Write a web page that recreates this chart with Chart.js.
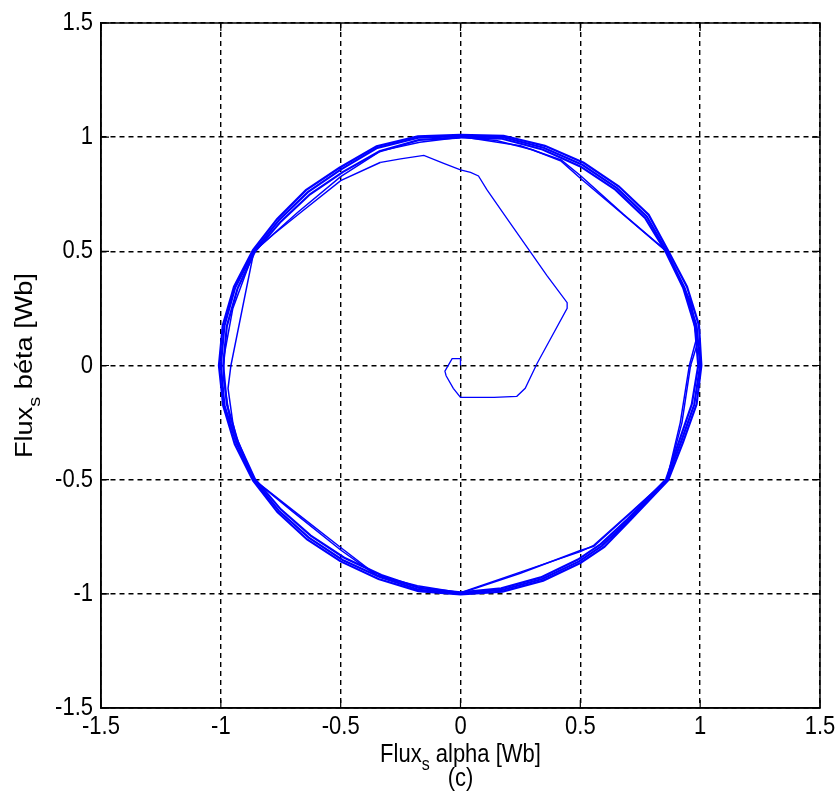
<!DOCTYPE html>
<html>
<head>
<meta charset="utf-8">
<script src="https://cdn.jsdelivr.net/npm/chart.js@4.4.1/dist/chart.umd.min.js"></script>
<style>
  body { margin: 0; background: #fff; }
  canvas { display: block; }
</style>
</head>
<body>
<canvas id="chart" width="838" height="800"></canvas>
<script>
// stator flux trajectory, alpha / beta components [Wb]
const fluxStart = [
  [0, 0], [0, 0.03], [-0.035, 0.03], [-0.065, -0.025], [-0.06, -0.045], [-0.03, -0.1],
  [0, -0.14], [0.14, -0.14], [0.235, -0.135], [0.27, -0.1], [0.32, 0.01], [0.445, 0.25],
  [0.445, 0.275], [0.36, 0.395], [0.29, 0.5], [0.2, 0.635], [0.11, 0.77], [0.075, 0.83],
  [0.042, 0.846], [0, 0.857], [-0.07, 0.885], [-0.153, 0.92], [-0.25, 0.905], [-0.333, 0.89]
];
const lapInner1 = [
  [-0.333, 0.89], [-0.5, 0.81], [-0.667, 0.67], [-0.78, 0.575], [-0.862, 0.5], [-0.91, 0.25],
  [-0.958, 0.0], [-0.97, -0.1], [-0.95, -0.25], [-0.925, -0.36], [-0.862, -0.5], [-0.68, -0.65],
  [-0.5, -0.797], [-0.35, -0.918], [-0.18, -0.965], [0, -0.995], [0.25, -0.905], [0.5, -0.815],
  [0.556, -0.788], [0.708, -0.645], [0.861, -0.5], [0.917, -0.25], [0.955, 0.0], [0.985, 0.12],
  [0.96, 0.28], [0.86, 0.5], [0.68, 0.66], [0.5, 0.82], [0.42, 0.895], [0.3, 0.945], [0.15, 0.985],
  [0, 1.0]
];
const lapInner2 = [
  [0, 1.0], [-0.17, 0.978], [-0.333, 0.94], [-0.5, 0.827], [-0.68, 0.67], [-0.862, 0.5],
  [-0.95, 0.25], [-0.985, 0.05], [-0.99, -0.05], [-0.96, -0.25], [-0.862, -0.5], [-0.7, -0.64],
  [-0.5, -0.808], [-0.35, -0.92], [-0.18, -0.97], [0, -0.997], [0.25, -0.91], [0.5, -0.81],
  [0.556, -0.792], [0.708, -0.648], [0.861, -0.5], [0.924, -0.25], [0.96, 0.0], [0.99, 0.1],
  [0.965, 0.26], [0.86, 0.5], [0.68, 0.662], [0.5, 0.832], [0.42, 0.9], [0.25, 0.962], [0, 1.003]
];
const lapOuter1 = [
  [0, 1.004], [-0.176, 0.998], [-0.347, 0.953], [-0.5, 0.858], [-0.637, 0.759], [-0.758, 0.636],
  [-0.862, 0.5], [-0.94, 0.342], [-0.985, 0.174], [-1.0, 0.0], [-0.985, -0.174], [-0.935, -0.34],
  [-0.862, -0.5], [-0.758, -0.636], [-0.633, -0.754], [-0.492, -0.852], [-0.337, -0.926], [-0.174, -0.982],
  [0, -0.998], [0.173, -0.983], [0.34, -0.935], [0.495, -0.858], [0.59, -0.79], [0.7, -0.68],
  [0.861, -0.5], [0.92, -0.335], [0.975, -0.172], [1.0, 0.0], [0.985, 0.174], [0.935, 0.34],
  [0.86, 0.5], [0.777, 0.653], [0.653, 0.777], [0.508, 0.879], [0.347, 0.954], [0.177, 1.0], [0, 1.006]
];
const lapOuter2 = [
  [0, 1.01], [-0.178, 1.004], [-0.35, 0.96], [-0.505, 0.866], [-0.645, 0.768], [-0.765, 0.642],
  [-0.866, 0.505], [-0.945, 0.345], [-0.992, 0.175], [-1.008, 0.0], [-0.99, -0.176], [-0.942, -0.344],
  [-0.866, -0.503], [-0.764, -0.642], [-0.64, -0.762], [-0.5, -0.858], [-0.342, -0.935], [-0.176, -0.988],
  [0, -1.003], [0.175, -0.99], [0.345, -0.942], [0.5, -0.865], [0.6, -0.795], [0.71, -0.675],
  [0.866, -0.503], [0.928, -0.338], [0.985, -0.17], [1.005, 0.0], [0.995, 0.176], [0.945, 0.345],
  [0.866, 0.504], [0.785, 0.66], [0.66, 0.785], [0.514, 0.888], [0.352, 0.962], [0.18, 1.006], [0, 1.01]
];
const lapOuter3 = [
  [0, 0.998], [-0.172, 0.988], [-0.338, 0.938], [-0.49, 0.848], [-0.628, 0.75], [-0.75, 0.63],
  [-0.858, 0.498], [-0.93, 0.338], [-0.975, 0.172], [-0.99, 0.0], [-0.975, -0.17], [-0.928, -0.337],
  [-0.858, -0.497], [-0.75, -0.63], [-0.625, -0.745], [-0.485, -0.842], [-0.33, -0.918], [-0.17, -0.975],
  [0, -0.993], [0.17, -0.976], [0.335, -0.928], [0.49, -0.85], [0.585, -0.782], [0.695, -0.675],
  [0.858, -0.498], [0.912, -0.332], [0.965, -0.17], [0.992, 0.0], [0.978, 0.172], [0.93, 0.338],
  [0.856, 0.498], [0.77, 0.646], [0.646, 0.77], [0.5, 0.872], [0.342, 0.946], [0.174, 0.993], [0, 1.0]
];
const tickValues = [-1.5, -1, -0.5, 0, 0.5, 1, 1.5];
const tickLabels = ['-1.5', '-1', '-0.5', '0', '0.5', '1', '1.5'];

const laps = [fluxStart, lapInner1, lapInner2, lapOuter1, lapOuter2, lapOuter3];
const lapWidths = [1.3, 1.5, 1.5, 2.2, 2.2, 2.2];
const textFont = '"Liberation Sans", Arial, sans-serif';

function drawSubText(ctx, pre, sub, post, font, subFont, drop) {
  ctx.font = font;
  const w1 = ctx.measureText(pre).width;
  const w3 = ctx.measureText(post).width;
  ctx.font = subFont;
  const w2 = ctx.measureText(sub).width;
  let x = -(w1 + w2 + w3) / 2;
  ctx.textAlign = 'left';
  ctx.textBaseline = 'alphabetic';
  ctx.font = font;
  ctx.fillText(pre, x, 0);
  x += w1;
  ctx.font = subFont;
  ctx.fillText(sub, x, drop);
  x += w2;
  ctx.font = font;
  ctx.fillText(post, x, 0);
}

const framePlugin = {
  id: 'frame',
  afterDraw(chart) {
    const { ctx, chartArea: a, scales } = chart;
    ctx.save();
    ctx.strokeStyle = '#000';
    ctx.lineWidth = 1.5;
    ctx.setLineDash([]);
    ctx.strokeRect(a.left, a.top, a.right - a.left, a.bottom - a.top);
    ctx.lineWidth = 1.2;
    ctx.beginPath();
    tickValues.forEach(v => {
      const px = scales.x.getPixelForValue(v);
      const py = scales.y.getPixelForValue(v);
      ctx.moveTo(px, a.bottom); ctx.lineTo(px, a.bottom - 8);
      ctx.moveTo(px, a.top); ctx.lineTo(px, a.top + 8);
      ctx.moveTo(a.left, py); ctx.lineTo(a.left + 8, py);
      ctx.moveTo(a.right, py); ctx.lineTo(a.right - 8, py);
    });
    ctx.stroke();

    ctx.fillStyle = '#000';
    // tick labels, slightly tall glyphs like the original export
    tickValues.forEach((v, i) => {
      const px = scales.x.getPixelForValue(v);
      const py = scales.y.getPixelForValue(v);
      ctx.save();
      ctx.translate(px, 727);
      ctx.scale(1, 1.17);
      ctx.font = '22px ' + textFont;
      ctx.textAlign = 'center';
      ctx.textBaseline = 'middle';
      ctx.fillText(tickLabels[i], 0, 0);
      ctx.restore();
      ctx.save();
      ctx.translate(93, py);
      ctx.scale(1, 1.17);
      ctx.font = '22px ' + textFont;
      ctx.textAlign = 'right';
      ctx.textBaseline = 'middle';
      ctx.fillText(tickLabels[i], 0, 0);
      ctx.restore();
    });

    const cx = (a.left + a.right) / 2;
    const cy = (a.top + a.bottom) / 2;
    // x title
    ctx.save();
    ctx.translate(cx, 762);
    ctx.scale(1, 1.18);
    drawSubText(ctx, 'Flux', 's', ' alpha [Wb]', '22px ' + textFont, '16px ' + textFont, 7);
    ctx.restore();
    // caption
    ctx.save();
    ctx.translate(cx, 786);
    ctx.scale(1, 1.18);
    ctx.font = '22px ' + textFont;
    ctx.textAlign = 'center';
    ctx.fillText('(c)', 0, 0);
    ctx.restore();
    // y title
    ctx.save();
    ctx.translate(32, cy);
    ctx.rotate(-Math.PI / 2);
    ctx.scale(1.18, 1);
    drawSubText(ctx, 'Flux', 's', ' béta [Wb]', '23px ' + textFont, '17px ' + textFont, 8);
    ctx.restore();
    ctx.restore();
  }
};

function axisOptions(fitFn) {
  return {
    type: 'linear',
    min: -1.5,
    max: 1.5,
    ticks: { stepSize: 0.5, display: false },
    grid: { color: '#000', lineWidth: 1.4, drawTicks: false },
    border: { display: true, color: '#000', width: 1.5, dash: [5, 4] },
    afterFit: fitFn
  };
}

function generateChart() {
  const context = document.getElementById('chart').getContext('2d');
  return new Chart(context, {
    type: 'scatter',
    data: {
      datasets: laps.map((lap, i) => ({
        data: lap.map(p => ({ x: p[0], y: p[1] })),
        showLine: true,
        borderColor: 'rgb(0,0,255)',
        borderWidth: lapWidths[i],
        pointRadius: 0,
        fill: false,
        tension: 0
      }))
    },
    options: {
      responsive: false,
      animation: false,
      devicePixelRatio: 1,
      layout: { padding: { top: 23, right: 18, left: 0, bottom: 0 } },
      plugins: { legend: { display: false }, tooltip: { enabled: false } },
      scales: {
        x: axisOptions(s => { s.height = 92; }),
        y: axisOptions(s => { s.width = 101; })
      }
    },
    plugins: [framePlugin]
  });
}

generateChart();
</script>
</body>
</html>
